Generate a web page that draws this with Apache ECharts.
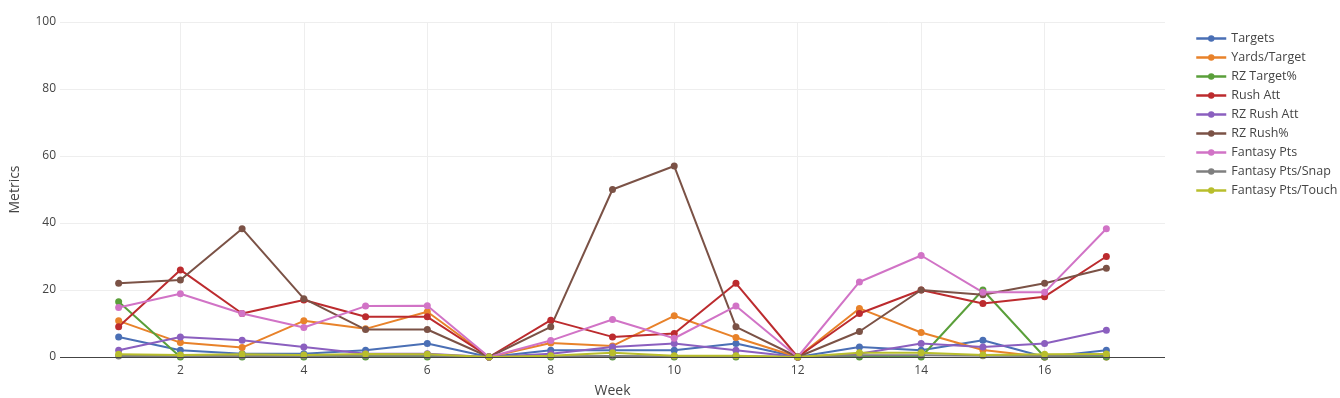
<!doctype html>
<html>
<head>
<meta charset="utf-8">
<script src="https://cdn.jsdelivr.net/npm/echarts@6/dist/echarts.min.js"></script>
<style>
  html, body { margin: 0; padding: 0; background: #fff; overflow: hidden; }
  #chart { width: 1340px; height: 398px; }
</style>
</head>
<body>
<div id="chart"></div>
<script>
  var weeks = [1, 2, 3, 4, 5, 6, 7, 8, 9, 10, 11, 12, 13, 14, 15, 16, 17];
  var xTicks = [2, 4, 6, 8, 10, 12, 14, 16];

  var targets = [6, 2, 1, 1, 2, 4, 0, 2, 2, 2, 4, 0, 3, 2, 5, 0, 2];
  var yardsPerTarget = [10.8, 4.3, 2.8, 10.8, 8.4, 13.5, 0, 4.2, 3.3, 12.3, 5.8, 0, 14.5, 7.3, 2.1, 0, 0];
  var rzTargetPct = [16.5, 0, 0, 0, 0, 0, 0, 0, 0, 0, 0, 0, 0, 0, 20, 0, 0];
  var rushAtt = [9, 26, 13, 17, 12, 12, 0, 11, 6, 7, 22, 0, 13, 20, 16, 18, 30];
  var rzRushAtt = [2, 6, 5, 3, 1, 1, 0, 1, 3, 4, 2, 0, 1, 4, 3, 4, 8];
  var rzRushPct = [22, 23, 38.3, 17.4, 8.2, 8.2, 0, 9, 50, 57, 9, 0, 7.6, 20, 18.6, 22, 26.5];
  var fantasyPts = [14.8, 18.9, 13, 8.8, 15.2, 15.3, 0, 4.9, 11.2, 5.6, 15.2, 0, 22.4, 30.3, 19.3, 19.3, 38.3];
  var ptsPerSnap = [0.3, 0.4, 0.3, 0.3, 0.4, 0.4, 0, 0.2, 0.3, 0.2, 0.3, 0, 0.5, 0.5, 0.4, 0.3, 0.5];
  var ptsPerTouch = [0.8, 0.6, 0.8, 0.6, 0.9, 0.8, 0, 0.4, 1.3, 0.4, 0.4, 0, 1.3, 1.3, 0.6, 0.8, 0.9];

  var seriesDefs = [
    ['Targets', targets, '#4a6fb5'],
    ['Yards/Target', yardsPerTarget, '#e8822a'],
    ['RZ Target%', rzTargetPct, '#5a9f3a'],
    ['Rush Att', rushAtt, '#bc2b2e'],
    ['RZ Rush Att', rzRushAtt, '#8b5fbf'],
    ['RZ Rush%', rzRushPct, '#7b5246'],
    ['Fantasy Pts', fantasyPts, '#d173c6'],
    ['Fantasy Pts/Snap', ptsPerSnap, '#7f7f7f'],
    ['Fantasy Pts/Touch', ptsPerTouch, '#b8be2c']
  ];

  var font = '"Open Sans", "DejaVu Sans", sans-serif';

  var series = seriesDefs.map(function (d) {
    return {
      name: d[0],
      type: 'line',
      data: weeks.map(function (w, i) { return [w, d[1][i]]; }),
      symbol: 'circle',
      symbolSize: 7,
      showSymbol: true,
      itemStyle: { color: d[2] },
      lineStyle: { color: d[2], width: 2 },
      emphasis: { disabled: true },
      animation: false
    };
  });

  var chart = echarts.init(document.getElementById('chart'), null, { renderer: 'canvas' });
  chart.setOption({
    backgroundColor: '#fff',
    textStyle: { fontFamily: font, color: '#444' },
    grid: { left: 60, right: 175, top: 22, bottom: 41, containLabel: false, outerBoundsMode: 'none' },
    legend: {
      orient: 'vertical',
      left: 1190,
      top: 27,
      itemWidth: 30,
      itemHeight: 8,
      itemGap: 6,
      lineStyle: { width: 2.5 },
      textStyle: { fontFamily: font, fontSize: 12.5, color: '#444' },
      data: seriesDefs.map(function (d) { return d[0]; })
    },
    xAxis: {
      type: 'value',
      min: 0.05,
      max: 17.95,
      name: 'Week',
      nameLocation: 'middle',
      nameGap: 27,
      nameTextStyle: { fontFamily: font, fontSize: 14, color: '#444' },
      axisLine: { show: false },
      axisTick: { show: false, customValues: xTicks },
      axisLabel: { customValues: xTicks, fontFamily: font, fontSize: 12, color: '#444', margin: 8 },
      splitLine: { show: true, lineStyle: { color: '#eeeeee', width: 1 } }
    },
    yAxis: {
      type: 'value',
      min: 0,
      max: 100,
      interval: 20,
      name: 'Metrics',
      nameLocation: 'middle',
      nameRotate: 90,
      nameGap: 38,
      nameTextStyle: { fontFamily: font, fontSize: 14, color: '#444' },
      axisLine: { show: false },
      axisTick: { show: false },
      axisLabel: { fontFamily: font, fontSize: 12, color: '#444', margin: 4 },
      splitLine: { show: true, lineStyle: { color: '#eeeeee', width: 1 } }
    },
    series: series.concat([{
      type: 'line',
      data: [],
      silent: true,
      markLine: {
        silent: true,
        symbol: 'none',
        label: { show: false },
        lineStyle: { color: '#444', width: 1, type: 'solid' },
        data: [{ yAxis: 0 }],
        animation: false
      }
    }])
  });
</script>
</body>
</html>
